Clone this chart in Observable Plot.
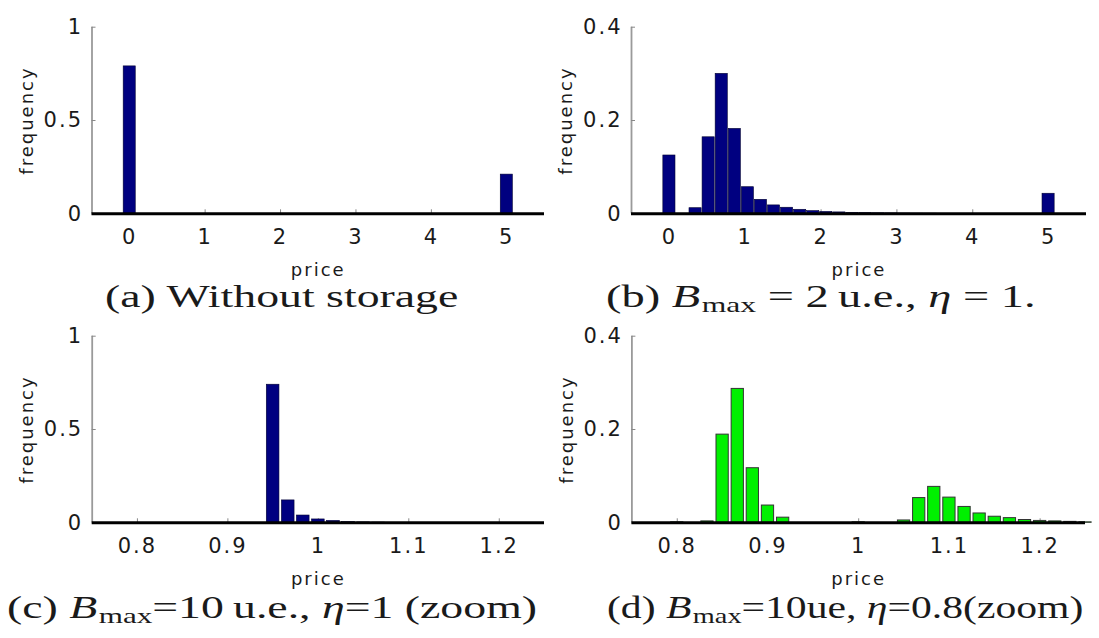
<!DOCTYPE html>
<html><head><meta charset="utf-8">
<script src="https://cdn.jsdelivr.net/npm/d3@7"></script>
<script src="https://cdn.jsdelivr.net/npm/@observablehq/plot@0.6"></script>
<style>
html,body{margin:0;padding:0;background:#fff;}
#root{position:relative;width:1099px;height:638px;overflow:hidden;}
.panel{position:absolute;}
.cap{position:absolute;white-space:nowrap;font-family:"Liberation Serif",serif;font-size:31px;line-height:31px;color:#1a1a1a;transform-origin:0 0;}
.cap i{font-style:italic;}
.sub{font-size:0.68em;position:relative;top:0.24em;margin-left:1px;}
</style></head><body><div id="root"></div>
<script>
// ---- data ----
const aPrice = [0, 5];
const aFreq  = [0.79, 0.21];

const bPrice = [0, 0.1724, 0.3448, 0.5172, 0.6897, 0.8621, 1.0345, 1.2069, 1.3793, 1.5517,
                1.7241, 1.8966, 2.0690, 2.2414, 2.4138, 2.5862, 2.7586, 2.9310, 3.1034, 3.2759,
                3.4483, 3.6207, 3.7931, 3.9655, 4.1379, 4.3103, 4.4828, 4.6552, 4.8276, 5.0];
const bFreq  = [0.125, 0, 0.012, 0.164, 0.300, 0.182, 0.057, 0.030, 0.018, 0.013,
                0.0086, 0.0057, 0.004, 0.003, 0.002, 0.0015, 0.001, 0.0008, 0.0005, 0.0003,
                0.0002, 0, 0, 0, 0, 0, 0, 0, 0, 0.043];

const cPrice = [0.9333, 0.95, 0.9667, 0.9833, 1.0, 1.0167, 1.0333, 1.05, 1.0667];
const cFreq  = [0, 0.74, 0.12, 0.039, 0.018, 0.010, 0.004, 0.002, 0.001];

const dPrice = [0.8, 0.8167, 0.8333, 0.85, 0.8667, 0.8833, 0.9, 0.9167, 0.9333, 0.95,
                0.9667, 0.9833, 1.0, 1.0167, 1.0333, 1.05, 1.0667, 1.0833, 1.1, 1.1167,
                1.1333, 1.15, 1.1667, 1.1833, 1.2, 1.2167, 1.2333, 1.25];
const dFreq  = [0.001, 0, 0.003, 0.189, 0.287, 0.117, 0.037, 0.011, 0, 0,
                0, 0, 0.001, 0, 0, 0.005, 0.053, 0.077, 0.054, 0.034,
                0.020, 0.013, 0.010, 0.006, 0.004, 0.003, 0.002, 0.001];

const wideXTicks = [0, 1, 2, 3, 4, 5];
const zoomXTicks = [0.8, 0.9, 1, 1.1, 1.2];
const yTicksFull = [0, 0.5, 1];
const yTicksPart = [0, 0.2, 0.4];
const wideDomain = [-0.5, 5.5];
const zoomDomain = [0.75, 1.25];
const yDomainFull = [0, 1];
const yDomainPart = [0, 0.4];

const captions = [
  '(a) Without storage',
  '(b) <i>B</i><span class="sub">max</span> = 2\u2009u.e., <i>η</i> = 1.',
  '(c) <i>B</i><span class="sub">max</span>=10\u2009u.e., <i>η</i>=1 (zoom)',
  '(d) <i>B</i><span class="sub">max</span>=10ue, <i>η</i>=0.8(zoom)'
];

// ---- drawing ----
const navy = "#000080";
const green = "#00f000";
const ink = "#1a1a1a";

function panel({price, freq, xDomain, xTicks, yDomain, yTicks, barW, fill, stroke, strokeWidth, width, mL, mR}) {
  const data = price.map((p, i) => ({price: p, freq: freq[i]}));
  const svg = Plot.plot({
    width, height: 280,
    marginLeft: mL, marginRight: mR, marginTop: 26.7, marginBottom: 66.7,
    x: {domain: xDomain},
    y: {domain: yDomain},
    style: {fontFamily: "DejaVu Sans", fontSize: "18px", letterSpacing: "2px", color: ink, background: "transparent", overflow: "visible"},
    marks: [
      Plot.ruleX([xDomain[0]], {stroke: "#9a9a9a", strokeWidth: 1.8}),
      Plot.axisY({ticks: yTicks, tickSize: -4, tickFormat: () => "", label: null, stroke: "#888"}),
      Plot.axisX({ticks: xTicks, tickSize: -4, tickFormat: () => "", label: null, stroke: "#888"}),
      Plot.rectY(data, {x1: d => d.price - barW / 2, x2: d => d.price + barW / 2, y: "freq", fill, stroke, strokeWidth}),
      Plot.ruleY([0], {stroke: "#000", strokeWidth: 3}),
      // tick labels drawn as text marks through the scales
      Plot.text(yTicks, {x: () => xDomain[0], y: d => d, text: d => String(d), textAnchor: "end", dx: -9, fontSize: 21, fill: ink}),
      Plot.text(xTicks, {x: d => d, y: () => yDomain[0], text: d => String(d), lineAnchor: "top", dy: 15, fontSize: 21, fill: ink}),
      Plot.axisY({ticks: [], tickSize: 0, label: "frequency", labelArrow: "none", labelAnchor: "center", labelOffset: 72, fill: ink}),
      Plot.axisX({ticks: [], tickSize: 0, label: "price", labelArrow: "none", labelAnchor: "center", labelOffset: 62, fill: ink})
    ]
  });
  // fallback: strip any label arrows
  svg.querySelectorAll("text, tspan").forEach(t => {
    if (t.children.length === 0 && /[→↑←↓]/.test(t.textContent)) {
      t.textContent = t.textContent.replace(/\s*[→↑←↓]\s*/g, "");
    }
  });
  return svg;
}

const root = document.getElementById("root");
const specs = [
  {left: 0,   top: 0,   price: aPrice, freq: aFreq, xDomain: wideDomain, xTicks: wideXTicks, yDomain: yDomainFull, yTicks: yTicksFull, barW: 0.16, fill: navy, stroke: "#000030", strokeWidth: 0.6, width: 550, mL: 91.5, mR: 6,
   cx: 281, base: 307, tw: 353},
  {left: 550, top: 0,   price: bPrice, freq: bFreq, xDomain: wideDomain, xTicks: wideXTicks, yDomain: yDomainPart, yTicks: yTicksPart, barW: 0.16, fill: navy, stroke: "#000030", strokeWidth: 0.6, width: 549, mL: 81, mR: 13,
   cx: 821, base: 307, tw: 430},
  {left: 0,   top: 309, price: cPrice, freq: cFreq, xDomain: zoomDomain, xTicks: zoomXTicks, yDomain: yDomainFull, yTicks: yTicksFull, barW: 0.014, fill: navy, stroke: "#000030", strokeWidth: 0.6, width: 550, mL: 91.7, mR: 6,
   cx: 272, base: 618, tw: 530},
  {left: 550, top: 309, price: dPrice, freq: dFreq, xDomain: zoomDomain, xTicks: zoomXTicks, yDomain: yDomainPart, yTicks: yTicksPart, barW: 0.0135, fill: green, stroke: "#333", strokeWidth: 1, width: 549, mL: 81.4, mR: 14,
   cx: 845, base: 618, tw: 477}
];

specs.forEach((s, i) => {
  const div = document.createElement("div");
  div.className = "panel";
  div.style.left = s.left + "px";
  div.style.top = s.top + "px";
  div.appendChild(panel(s));
  root.appendChild(div);

  const cap = document.createElement("div");
  cap.className = "cap";
  cap.innerHTML = captions[i];
  root.appendChild(cap);
  const nat = cap.offsetWidth;
  cap.style.left = (s.cx - s.tw / 2) + "px";
  cap.style.top = (s.base - 26) + "px";
  cap.style.transform = `scaleX(${s.tw / nat})`;
});
</script>
</body></html>
